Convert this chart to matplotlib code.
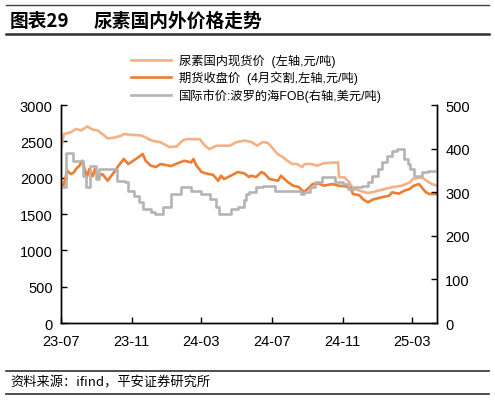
import matplotlib
matplotlib.use("Agg")
import matplotlib.pyplot as plt
import matplotlib.dates as mdates
import pandas as pd

plt.rcParams['font.family'] = ['Liberation Sans', 'Noto Sans CJK SC', 'DejaVu Sans']

# 尿素国内现货价 (左轴, 元/吨)
spot_dates = ['2023-07-01', '2023-07-06', '2023-07-18', '2023-07-27', '2023-08-05', '2023-08-16',
              '2023-08-25', '2023-09-03', '2023-09-11', '2023-09-20', '2023-10-01', '2023-10-13',
              '2023-10-18', '2023-11-01', '2023-11-18', '2023-12-06', '2023-12-20', '2024-01-06',
              '2024-01-18', '2024-01-28', '2024-02-04', '2024-02-27', '2024-03-07', '2024-03-15',
              '2024-03-27', '2024-04-19', '2024-05-01', '2024-05-15', '2024-05-27', '2024-06-06',
              '2024-06-15', '2024-06-24', '2024-07-01', '2024-07-11', '2024-07-20', '2024-07-28',
              '2024-08-06', '2024-08-13', '2024-08-23', '2024-08-27', '2024-09-08', '2024-09-18',
              '2024-09-30', '2024-10-24', '2024-10-26', '2024-11-04', '2024-11-13', '2024-11-16',
              '2024-11-21', '2024-12-01', '2024-12-14', '2024-12-23', '2025-01-01', '2025-01-25',
              '2025-02-12', '2025-02-26', '2025-03-03', '2025-03-18', '2025-03-27', '2025-04-05',
              '2025-04-14']
spot_vals = [2400, 2600, 2624, 2670, 2650, 2705,
             2660, 2650, 2600, 2540, 2550, 2577,
             2600, 2590, 2580, 2510, 2490, 2420,
             2430, 2510, 2530, 2530, 2440, 2394,
             2440, 2440, 2490, 2510, 2490, 2440,
             2490, 2480, 2420, 2325, 2284, 2233,
             2188, 2190, 2147, 2188, 2188, 2165,
             2200, 2211, 2005, 2005, 1936, 1890,
             1850, 1820, 1790, 1800, 1820, 1867,
             1890, 1936, 1981, 2005, 1958, 1912,
             1890]

# 期货收盘价 (4月交割, 左轴, 元/吨)
fut_dates = ['2023-07-01', '2023-07-04', '2023-07-12', '2023-07-18', '2023-07-23', '2023-07-27',
             '2023-08-02', '2023-08-07', '2023-08-11', '2023-08-15', '2023-08-19', '2023-08-25',
             '2023-08-29', '2023-09-03', '2023-09-11', '2023-09-20', '2023-10-01', '2023-10-09',
             '2023-10-18', '2023-10-26', '2023-11-08', '2023-11-20', '2023-11-25', '2023-12-04',
             '2023-12-13', '2023-12-21', '2024-01-08', '2024-01-20', '2024-01-31', '2024-02-12',
             '2024-02-16', '2024-02-21', '2024-03-01', '2024-03-13', '2024-03-21', '2024-03-30',
             '2024-04-04', '2024-04-09', '2024-04-21', '2024-05-03', '2024-05-14', '2024-05-23',
             '2024-05-26', '2024-06-04', '2024-06-13', '2024-06-18', '2024-06-27', '2024-07-12',
             '2024-07-17', '2024-07-22', '2024-07-29', '2024-08-07', '2024-08-17', '2024-08-26',
             '2024-09-01', '2024-09-10', '2024-09-21', '2024-09-29', '2024-10-15', '2024-10-25',
             '2024-11-06', '2024-11-15', '2024-11-19', '2024-11-30', '2024-12-06', '2024-12-15',
             '2024-12-24', '2025-01-07', '2025-01-21', '2025-01-26', '2025-02-07', '2025-02-16',
             '2025-02-25', '2025-03-05', '2025-03-14', '2025-03-19', '2025-03-26', '2025-04-01',
             '2025-04-14']
fut_vals = [1900, 1860, 2096, 2050, 2070, 2119,
            2165, 2233, 2120, 2009, 2119, 2020,
            2119, 2009, 2050, 1958, 2073, 2165,
            2257, 2188, 2257, 2325, 2233, 2165,
            2147, 2188, 2160, 2200, 2233, 2210,
            2257, 2170, 2078, 2050, 2040, 1958,
            2027, 1981, 2027, 2078, 2060, 2009,
            2027, 2010, 2078, 2060, 1981, 1958,
            2027, 1990, 1940, 1890, 1871, 1802,
            1843, 1912, 1920, 1890, 1912, 1890,
            1880, 1860, 1775, 1760, 1706, 1661,
            1700, 1729, 1752, 1798, 1780, 1820,
            1843, 1890, 1912, 1860, 1798, 1775,
            1775]

# 国际市价:波罗的海FOB (右轴, 美元/吨)
fob_dates = ['2023-07-01', '2023-07-08', '2023-07-09', '2023-07-18', '2023-07-21', '2023-08-05',
             '2023-08-08', '2023-08-13', '2023-08-19', '2023-08-21', '2023-08-28', '2023-08-30',
             '2023-09-04', '2023-09-05', '2023-10-04', '2023-10-07', '2023-10-21', '2023-10-26',
             '2023-11-04', '2023-11-13', '2023-11-21', '2023-12-04', '2023-12-12', '2023-12-21',
             '2023-12-26', '2024-01-08', '2024-01-25', '2024-01-31', '2024-02-12', '2024-03-01',
             '2024-03-15', '2024-03-27', '2024-04-01', '2024-04-14', '2024-04-22', '2024-05-04',
             '2024-05-13', '2024-05-17', '2024-05-22', '2024-06-03', '2024-06-15', '2024-07-01',
             '2024-07-06', '2024-08-11', '2024-08-20', '2024-08-26', '2024-09-05', '2024-09-14',
             '2024-09-26', '2024-10-14', '2024-10-19', '2024-11-01', '2024-11-10', '2024-11-21',
             '2024-12-04', '2024-12-15', '2024-12-22', '2025-01-01', '2025-01-09', '2025-01-17',
             '2025-01-26', '2025-02-04', '2025-02-09', '2025-02-15', '2025-02-22', '2025-02-26',
             '2025-03-05', '2025-03-14', '2025-03-19', '2025-03-29', '2025-04-14']
fob_vals = [311, 311, 391, 391, 372, 372,
            338, 311, 311, 361, 361, 330,
            330, 353, 353, 326, 323, 303,
            292, 277, 262, 255, 250, 250,
            266, 296, 312, 312, 303, 296,
            284, 266, 250, 250, 262, 266,
            281, 295, 300, 312, 315, 315,
            303, 303, 296, 300, 312, 323,
            335, 335, 323, 318, 307, 311,
            315, 323, 338, 353, 369, 384,
            395, 399, 399, 376, 365, 353,
            338, 338, 346, 349, 353]

labels = ['尿素国内现货价  (左轴,元/吨)',
          '期货收盘价  (4月交割,左轴,元/吨)',
          '国际市价:波罗的海FOB(右轴,美元/吨)']

fig = plt.figure(figsize=(4.95, 4.02), dpi=100)
ax = fig.add_axes([0.1232, 0.194, 0.7596, 0.5423])
ax2 = ax.twinx()

l1, = ax.plot(pd.to_datetime(spot_dates), spot_vals, color='#F4B183', lw=1.9)
l2, = ax.plot(pd.to_datetime(fut_dates), fut_vals, color='#ED7D31', lw=1.9)
l3, = ax2.plot(pd.to_datetime(fob_dates), fob_vals, color='#B4B4B4', lw=1.9,
               drawstyle='steps-post')

ax.set_ylim(0, 3000)
ax.set_yticks(range(0, 3001, 500))
ax2.set_ylim(0, 500)
ax2.set_yticks(range(0, 501, 100))
ax.set_xlim(pd.Timestamp('2023-07-01'), pd.Timestamp('2025-04-14'))
ax.xaxis.set_major_locator(mdates.MonthLocator(bymonth=[3, 7, 11]))
ax.xaxis.set_major_formatter(mdates.DateFormatter('%y-%m'))

for a in (ax, ax2):
    a.spines['top'].set_visible(False)
    for s in a.spines.values():
        s.set_linewidth(1.0)
    a.tick_params(direction='in', length=4, width=1, labelsize=10.5, pad=6)
ax.tick_params(axis='x', pad=8)

fig.legend([l1, l2, l3], labels, loc='upper left', bbox_to_anchor=(0.255, 0.876),
           frameon=False, fontsize=8.8, handlelength=3.3, handletextpad=0.6,
           labelspacing=0.3, borderaxespad=0)

# 标题和来源
fig.add_artist(plt.Line2D([0.012, 0.988], [0.985, 0.985], color='#404040', lw=1.0))
fig.text(0.02, 0.946, '图表29', fontsize=13.5, fontweight='bold', va='center',
         family=['Noto Sans CJK SC'])
fig.text(0.19, 0.946, '尿素国内外价格走势', fontsize=13.5, fontweight='bold', va='center',
         family=['Noto Sans CJK SC'])
fig.add_artist(plt.Line2D([0.012, 0.988], [0.914, 0.914], color='#303030', lw=1.8))
fig.add_artist(plt.Line2D([0.012, 0.988], [0.075, 0.075], color='#303030', lw=1.2))
fig.text(0.02, 0.047, '资料来源：ifind，平安证券研究所', fontsize=9.5, style='italic',
         va='center', family=['Noto Sans CJK SC', 'DejaVu Sans'])
fig.add_artist(plt.Line2D([0.012, 0.988], [0.018, 0.018], color='#303030', lw=1.2))

fig.savefig('out.png', dpi=100)
